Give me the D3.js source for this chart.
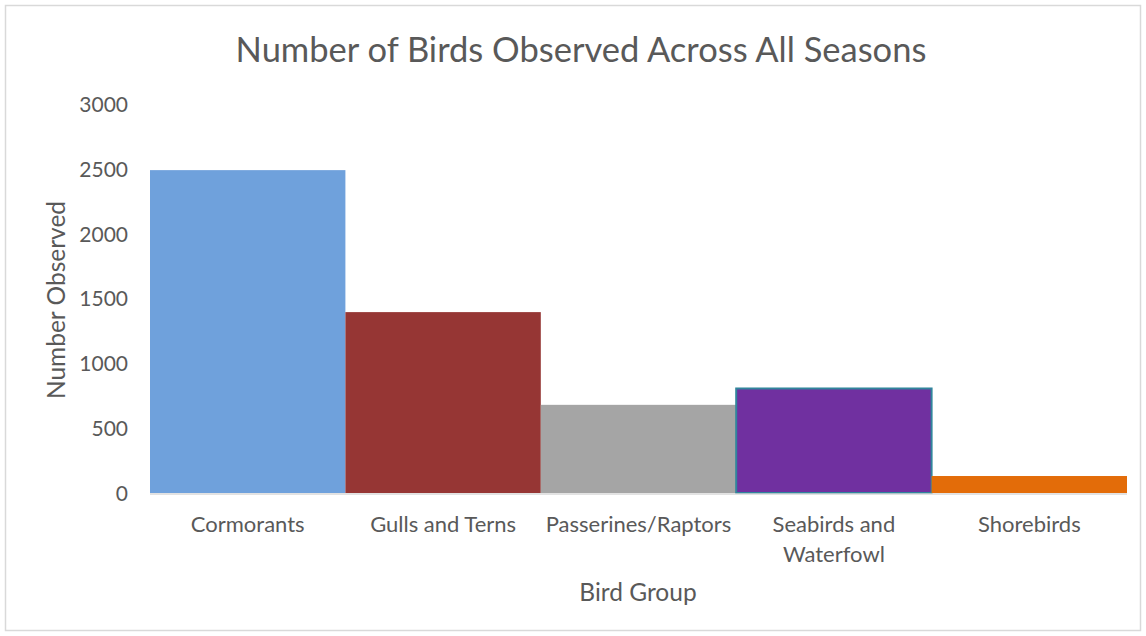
<!DOCTYPE html>
<html><head><meta charset="utf-8">
<script src="https://cdn.jsdelivr.net/npm/d3@7"></script>
<style>body{margin:0;background:#fff}svg{display:block}text{font-family:Lato,"Open Sans",sans-serif;fill:#595959}</style>
</head><body><svg id="c" width="1146" height="636"></svg>
<script>
const categories = ["Cormorants","Gulls and Terns","Passerines/Raptors","Seabirds and Waterfowl","Shorebirds"];
const labelLines = [["Cormorants"],["Gulls and Terns"],["Passerines/Raptors"],["Seabirds and","Waterfowl"],["Shorebirds"]];
const values = [2490, 1395, 680, 806, 131];
const colors = ["#6FA1DC","#963634","#A5A5A5","#7030A0","#E36C09"];
const strokes = [null,null,null,"#31859C",null];
const yTicks = [0,500,1000,1500,2000,2500,3000];
const title = "Number of Birds Observed Across All Seasons";
const xTitle = "Bird Group", yTitle = "Number Observed";

const svg = d3.select("#c");
svg.append("rect").attr("x",5.5).attr("y",5.5).attr("width",1135).attr("height",625)
  .attr("fill","#fff").attr("stroke","#D9D9D9").attr("stroke-width",1.5);

const x = d3.scaleBand().domain(categories).range([150,1127]).padding(0);
const y = d3.scaleLinear().domain([0,3000]).range([493,104]);

svg.append("text").attr("x",581).attr("y",62).attr("text-anchor","middle")
  .style("font-size","34.5px").text(title);

svg.selectAll("rect.bar").data(categories).enter().append("rect").attr("class","bar")
  .attr("x",d=>x(d)).attr("width",x.bandwidth())
  .attr("y",(d,i)=>y(values[i])).attr("height",(d,i)=>y(0)-y(values[i]))
  .attr("fill",(d,i)=>colors[i])
  .attr("stroke",(d,i)=>strokes[i]||"none").attr("stroke-width",2);

svg.append("line").attr("x1",150).attr("x2",1127).attr("y1",y(0)+1).attr("y2",y(0)+1)
  .attr("stroke","#D9D9D9").attr("stroke-width",1.5);

const yAxis = d3.axisLeft(y).tickValues(yTicks).tickSize(0).tickPadding(0).tickFormat(d3.format("d"));
const ga = svg.append("g").attr("transform","translate(128,0)").call(yAxis);
ga.select(".domain").remove();
ga.selectAll("text").style("font-size","21px").attr("fill","#595959").attr("dy","0.35em");

const xAxis = d3.axisBottom(x).tickSize(0).tickFormat("");
const gx = svg.append("g").attr("transform",`translate(0,${y(0)})`).call(xAxis);
gx.select(".domain").remove();
gx.selectAll(".tick").each(function(d,i){
  const t = d3.select(this).append("text").attr("text-anchor","middle").style("font-size","22px");
  labelLines[i].forEach((l,j)=>t.append("tspan").attr("x",0).attr("y",39+j*30).text(l));
});

svg.append("text").attr("x",638).attr("y",601).attr("text-anchor","middle").style("font-size","24.5px").text(xTitle);
svg.append("text").attr("transform","translate(65,300) rotate(-90)").attr("text-anchor","middle").style("font-size","24.5px").text(yTitle);
</script></body></html>
